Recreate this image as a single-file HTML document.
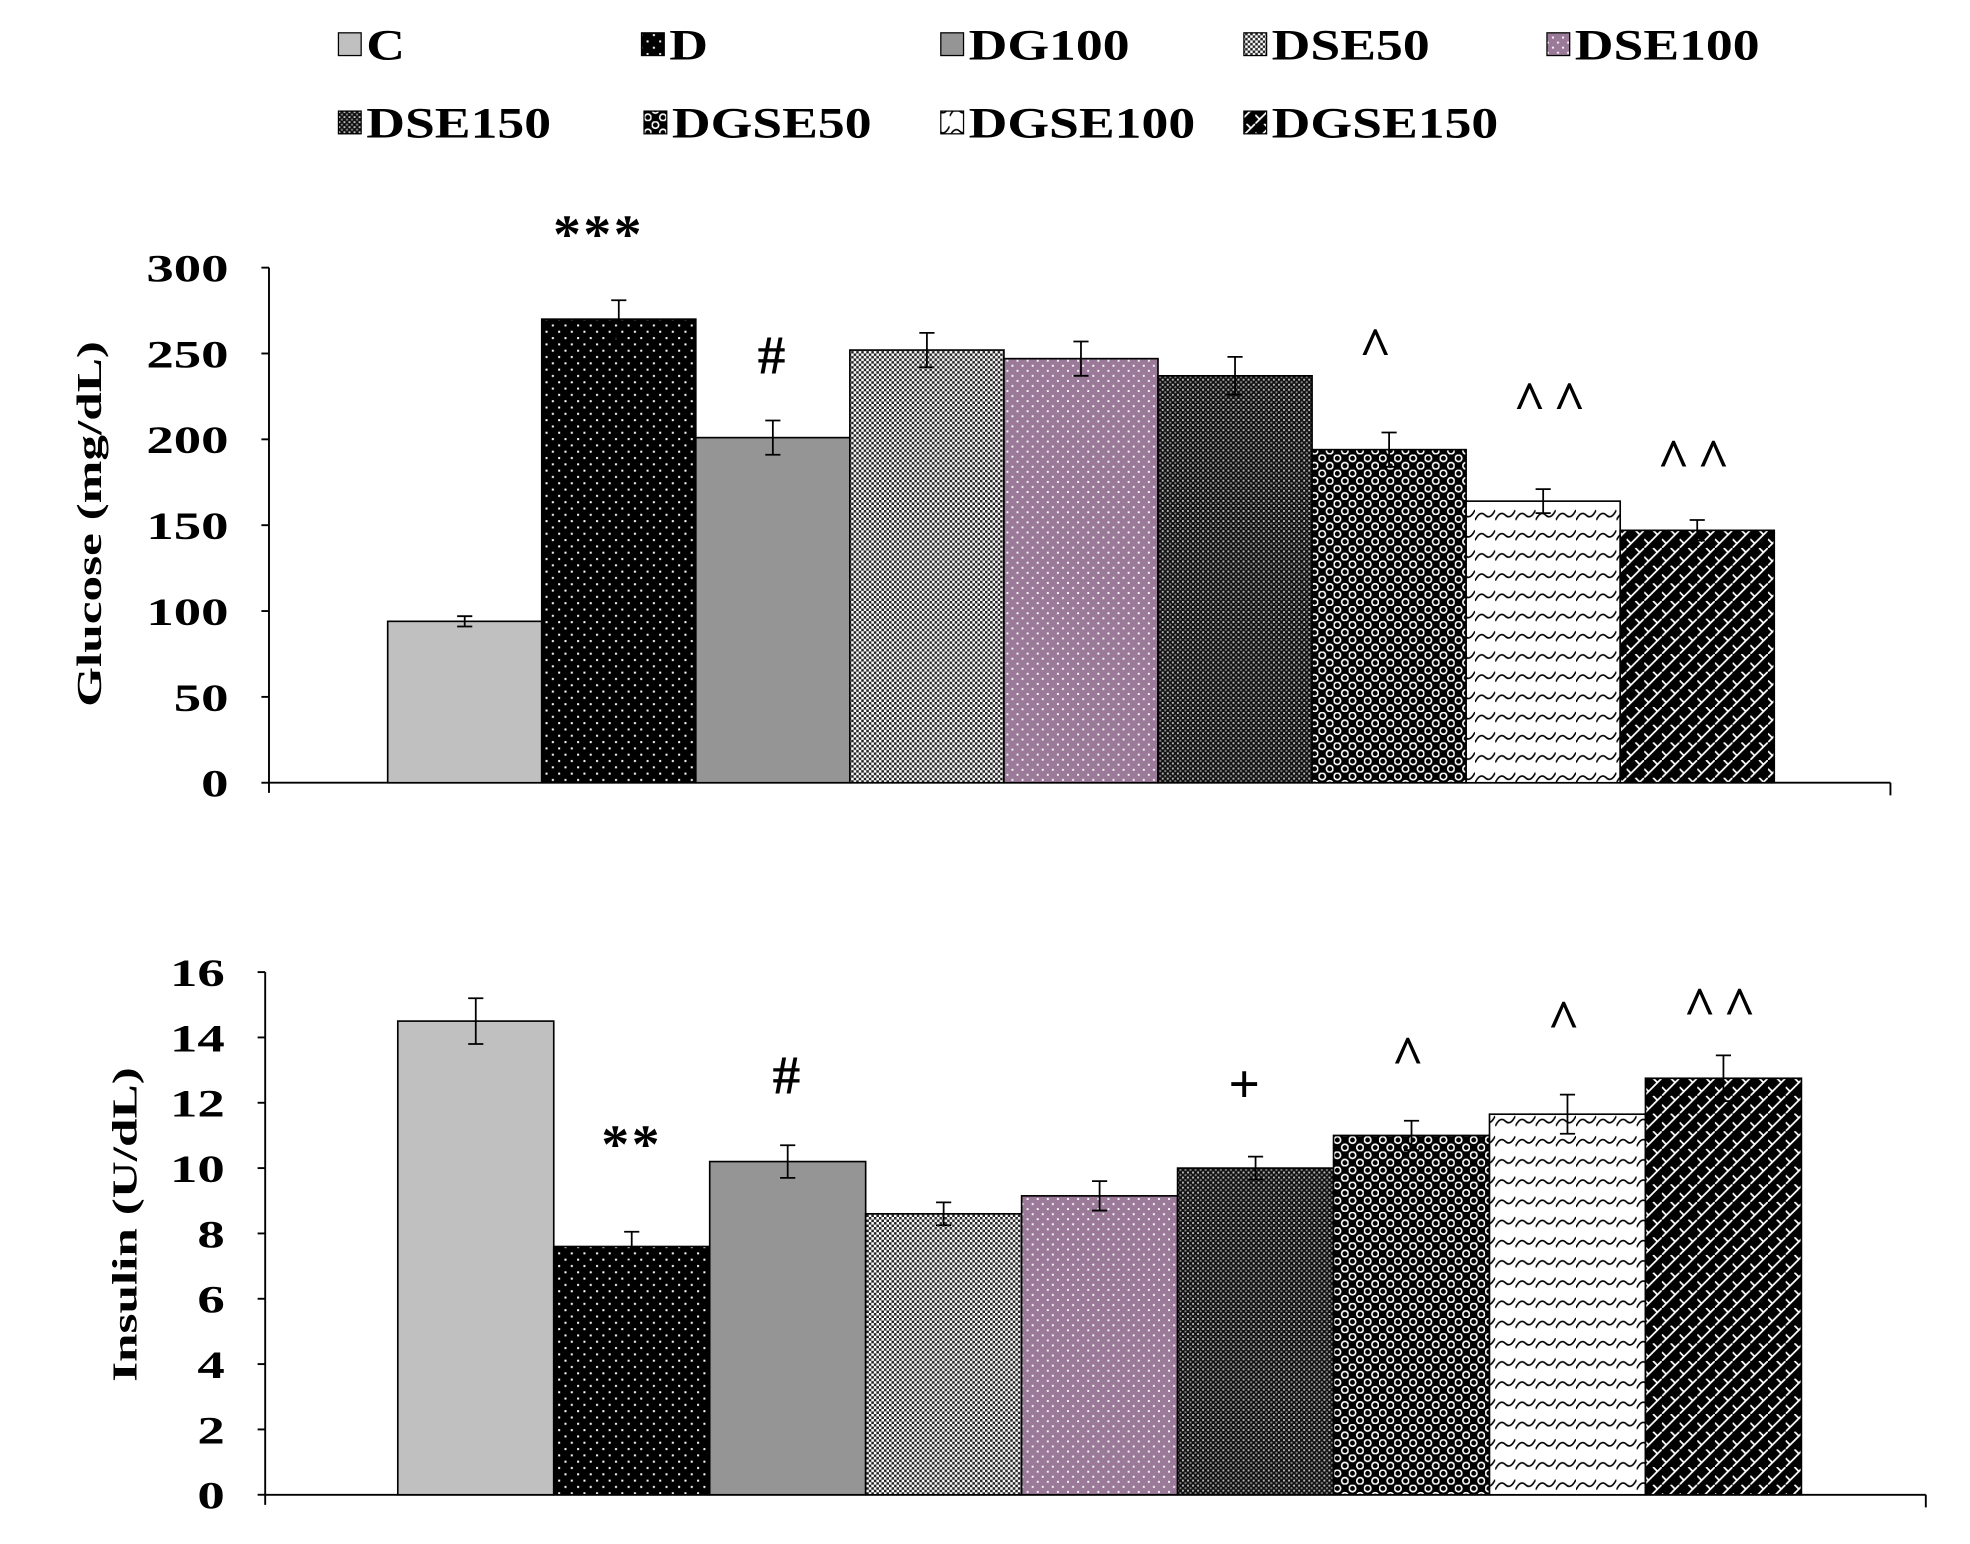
<!DOCTYPE html>
<html><head><meta charset="utf-8"><style>
html,body{margin:0;padding:0;background:#fff;}
svg{display:block;}
text{font-family:"Liberation Serif",serif;font-weight:bold;fill:#000;}
</style></head><body>
<svg id="chart" width="1970" height="1544" viewBox="0 0 1560 1223" preserveAspectRatio="none" xmlns="http://www.w3.org/2000/svg">
<defs>
<pattern id="p0" width="4" height="4" patternUnits="userSpaceOnUse"><rect width="4" height="4" fill="#c0c0c0"/></pattern>
<pattern id="p1" width="10" height="10" patternUnits="userSpaceOnUse"><rect width="10" height="10" fill="#000"/><rect x="2" y="2" width="1.6" height="1.6" fill="#fff"/><rect x="7" y="7" width="1.6" height="1.6" fill="#fff"/></pattern>
<pattern id="p2" width="4" height="4" patternUnits="userSpaceOnUse"><rect width="4" height="4" fill="#959595"/></pattern>
<pattern id="p3" width="4" height="4" patternUnits="userSpaceOnUse"><rect width="4" height="4" fill="#fff"/><rect width="2" height="2" fill="#222"/><rect x="2" y="2" width="2" height="2" fill="#222"/></pattern>
<pattern id="p4" width="8" height="8" patternUnits="userSpaceOnUse"><rect width="8" height="8" fill="#9a7a98"/><rect x="1" y="1" width="1.5" height="1.5" fill="#fff"/><rect x="5" y="5" width="1.5" height="1.5" fill="#fff"/></pattern>
<pattern id="p5" width="4" height="4" patternUnits="userSpaceOnUse"><rect width="4" height="4" fill="#111"/><rect x="0" y="0" width="1.5" height="1.5" fill="#bbb"/><rect x="2" y="2" width="1.5" height="1.5" fill="#888"/></pattern>
<pattern id="p6" width="12" height="12" patternUnits="userSpaceOnUse"><rect width="12" height="12" fill="#000"/><circle cx="3" cy="3" r="2.6" fill="none" stroke="#fff" stroke-width="1.3"/><circle cx="9" cy="9" r="2.6" fill="none" stroke="#fff" stroke-width="1.3"/></pattern>
<pattern id="p7" width="16" height="16" patternUnits="userSpaceOnUse"><rect width="16" height="16" fill="#fff"/><path d="M0 12 Q4 4 8 8 T16 4" fill="none" stroke="#000" stroke-width="1.3"/></pattern>
<pattern id="p8" width="14" height="14" patternUnits="userSpaceOnUse"><rect width="14" height="14" fill="#000"/><path d="M0 14 L14 0 M7 0 L10 3 M0 7 L3 10" stroke="#fff" stroke-width="1.4"/></pattern>
</defs>
<g id="legend"></g>
<g id="top"></g>
<g id="bot"></g>
</svg>
<script>
const groups = ["C","D","DG100","DSE50","DSE100","DSE150","DGSE50","DGSE100","DGSE150"];
const glucose = [94,270,201,252,247,237,194,164,147];
const glucoseErr = [3,11,10,10,10,11,10,7,6];
const glucoseTicks = [0,50,100,150,200,250,300];
const glucoseMarks = ["","***","#","","","","^","^^","^^"];
const insulin = [14.5,7.6,10.2,8.6,9.15,10.0,11.0,11.65,12.75];
const insulinErr = [0.7,0.45,0.5,0.35,0.45,0.35,0.45,0.6,0.7];
const insulinTicks = [0,2,4,6,8,10,12,14,16];
const insulinMarks = ["","**","#","","","+","^","^","^^"];

const NS="http://www.w3.org/2000/svg";
function mk(parent,tag,attrs){const e=document.createElementNS(NS,tag);for(const k in attrs)e.setAttribute(k,attrs[k]);parent.appendChild(e);return e;}

const lg=document.getElementById('legend');
const legX=[268,508,745,985,1225,268,510,745,985];
const legY=[35,35,35,35,35,97,97,97,97];
groups.forEach((g,i)=>{
  const r=mk(lg,'rect',{x:legX[i],y:legY[i]-9,width:18,height:18,fill:`url(#p${i})`,stroke:'#000','stroke-width':1});
  
  
  const t=mk(lg,'text',{x:0,y:0,'font-size':34,transform:`translate(${legX[i]+22},${legY[i]+12}) scale(1.25,1)`});
  t.textContent=g;
  
  
});

function drawChart(gid,vals,errs,ticks,marks,o){
  const G=document.getElementById(gid);
  const max=ticks[ticks.length-1];
  const y=v=>o.y0-(v/max)*(o.y0-o.y1);
  const x=i=>o.bx+i*o.bw;
  mk(G,'line',{x1:o.ax,y1:o.y1,x2:o.ax,y2:o.y0+8,stroke:'#000','stroke-width':1.5});
  const xa=mk(G,'line',{x1:o.ax,y1:o.y0,x2:o.xe,y2:o.y0,stroke:'#000','stroke-width':1.5});
  
  
  mk(G,'line',{x1:o.xe,y1:o.y0,x2:o.xe,y2:o.y0+10,stroke:'#000','stroke-width':1.5});
  ticks.forEach(t=>{
    mk(G,'line',{x1:o.ax-6,y1:y(t),x2:o.ax,y2:y(t),stroke:'#000','stroke-width':1.5});
    const tl=mk(G,'text',{x:0,y:0,'font-size':31,'text-anchor':'end',transform:`translate(${o.ax-32},${y(t)+11}) scale(1.4,1)`});
    tl.textContent=t;
    
    
  });
  const yt=mk(G,'text',{x:0,y:0,'font-size':28,'text-anchor':'middle',transform:`translate(${o.tx},${o.ty}) rotate(-90) scale(1.45,1)`});
  yt.textContent=o.title;
  
  
  vals.forEach((v,i)=>{
    const b=mk(G,'rect',{x:x(i),y:y(v),width:o.bw,height:o.y0-y(v),fill:`url(#p${i})`,stroke:'#000','stroke-width':1.3});
    
    
    const cx=x(i)+o.bw/2;
    const e=mk(G,'path',{d:`M${cx} ${y(v-errs[i])}V${y(v+errs[i])}M${cx-6} ${y(v+errs[i])}H${cx+6}M${cx-6} ${y(v-errs[i])}H${cx+6}`,stroke:'#000','stroke-width':1.4,fill:'none'});
    
    
    if(marks[i]){
      const m=mk(G,'text',{x:cx+o.mDx[i],y:y(v+errs[i])-o.mOff[i],'font-size':44,'text-anchor':'middle','letter-spacing':marks[i][0]==='^'?6:2});
      m.textContent=marks[i];
      
      
    }
  });
}
drawChart('top',glucose,glucoseErr,glucoseTicks,glucoseMarks,{ax:213,y0:620,y1:212,xe:1497,bx:307,bw:122,tx:80,ty:415,title:'Glucose (mg/dL)',mOff:[0,38,37,0,0,0,53,55,34],mDx:[0,-16,0,0,0,0,-8,8,0]});
drawChart('bot',insulin,insulinErr,insulinTicks,insulinMarks,{ax:210,y0:1184,y1:770,xe:1525,bx:315,bw:123.5,tx:108,ty:970,title:'Insulin (U/dL)',mOff:[0,55,41,0,0,43,37,45,24],mDx:[0,0,0,0,0,-8,0,0,0]});
</script>
</body></html>
